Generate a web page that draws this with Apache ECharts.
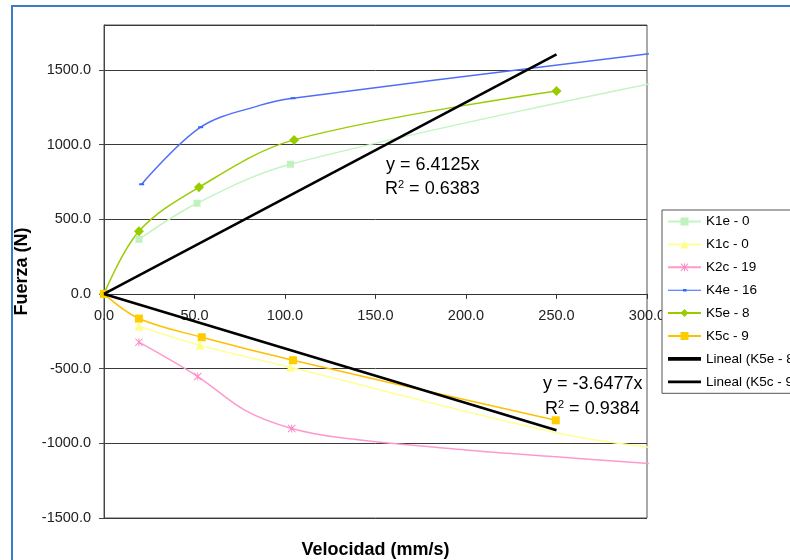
<!DOCTYPE html>
<html>
<head>
<meta charset="utf-8">
<script src="https://cdn.jsdelivr.net/npm/echarts@6/dist/echarts.min.js"></script>
<style>html,body{margin:0;padding:0;background:#fff;}#c{width:790px;height:560px;}</style>
</head>
<body>
<div id="c"></div>
<script>
// ---- data ----
const xTicks = [0, 50, 100, 150, 200, 250, 300];
const yTicks = [-1500, -1000, -500, 0, 500, 1000, 1500];
const seriesNames = ['K1e - 0', 'K1c - 0', 'K2c - 19', 'K4e - 16', 'K5e - 8', 'K5c - 9', 'Lineal (K5e - 8)', 'Lineal (K5c - 9)'];
// [x, y, showMarker]
const k1e = [[19.3, 365, 1], [51.4, 607, 1], [103, 868, 1], [303, 1410, 0]];
const k1c = [[19.3, -216, 1], [53, -343, 1], [103, -491, 1], [250, -930, 0], [303, -1030, 0]];
const k2c = [[19.3, -323, 1], [51.8, -553, 1], [78, -780, 0], [103.7, -901, 1], [132, -965, 0], [200, -1045, 0], [248, -1089, 0], [303, -1136, 0]];
const k4e = [[20.8, 734, 1], [53.4, 1116, 1], [86, 1262, 0], [104.4, 1310, 1], [303, 1610, 0]];
const k5e = [[0, 0, 1], [19.3, 419, 1], [52.5, 714, 1], [105, 1031, 1], [250, 1359, 1]];
const k5c = [[0, 0, 1], [19.3, -165, 1], [54, -290, 1], [104.4, -444, 1], [249.6, -846, 1]];
const trendK5e = [[0, 0], [250, 1603]];   // y = 6.4125x
const trendK5c = [[0, 0], [250, -912]];   // y = -3.6477x
const trendLabels = [['y = 6.4125x', '0.6383'], ['y = -3.6477x', '0.9384']];

const FONT = '"Liberation Sans", Arial, sans-serif';
const asterisk = 'path://M4.4 0L5.6 0L5.6 10L4.4 10Z M0 0.85L0.85 0L10 9.15L9.15 10Z M9.15 0L10 0.85L0.85 10L0 9.15Z';

function pts(arr) {
  return arr.map(p => p[2] ? {value: [p[0], p[1]]} : {value: [p[0], p[1]], symbol: 'none'});
}

function lineSeries(name, arr, color, symbol, size, markerColor, z) {
  return {
    name: name, type: 'line', data: pts(arr), smooth: 0.35, clip: false,
    symbol: symbol, symbolSize: size, showSymbol: true,
    lineStyle: {color: color, width: 1.5},
    itemStyle: {color: markerColor || color, borderWidth: 0},
    emphasis: {disabled: true}, z: z || 2, animation: false
  };
}

const legendData = seriesNames.map((n, i) => {
  if (i === 6) return {name: n, icon: 'path://M0 0L33 0L33 3.6L0 3.6Z'};
  if (i === 7) return {name: n, icon: 'path://M0 0L33 0L33 2.8L0 2.8Z'};
  if (i === 3) return {name: n, icon: 'path://M0 1L33 1L33 2L0 2Z M15 0.3L18.5 0.3L18.5 2.7L15 2.7Z'};
  return {name: n};
});

const chart = echarts.init(document.getElementById('c'), null, {renderer: 'canvas'});
const option = {
  animation: false,
  backgroundColor: '#fff',
  textStyle: {fontFamily: FONT},
  grid: {left: 104, top: 25, right: 143, bottom: 42, outerBoundsMode: 'none', containLabel: false,
    show: true, borderColor: '#555', borderWidth: 1, backgroundColor: 'transparent'},
  xAxis: {
    type: 'value', min: xTicks[0], max: xTicks[xTicks.length - 1], interval: 50,
    position: 'bottom', offset: 0,
    name: 'Velocidad (mm/s)', nameLocation: 'middle', nameGap: 247,
    nameTextStyle: {fontFamily: FONT, fontWeight: 'bold', fontSize: 18, color: '#000'},
    axisLine: {onZero: false, lineStyle: {color: '#333', width: 1}},
    axisTick: {show: true, length: 5, lineStyle: {color: '#333'}},
    axisLabel: {fontFamily: FONT, fontSize: 14.5, color: '#222', margin: 15, formatter: v => v.toFixed(1)},
    splitLine: {show: false}
  },
  yAxis: {
    type: 'value', min: yTicks[0], max: 1800, interval: 500,
    name: 'Fuerza (N)', nameLocation: 'middle', nameGap: 65, nameRotate: 90,
    nameTextStyle: {fontFamily: FONT, fontWeight: 'bold', fontSize: 18, color: '#000'},
    axisLine: {show: true, lineStyle: {color: '#444'}},
    axisTick: {show: true, length: 5, lineStyle: {color: '#444'}},
    axisLabel: {fontFamily: FONT, fontSize: 14.5, color: '#222', margin: 13, showMaxLabel: false,
      formatter: v => (yTicks.indexOf(v) >= 0 ? v.toFixed(1) : '')},
    splitLine: {show: true, lineStyle: {color: '#3a3a3a', width: 1}}
  },
  legend: {
    orient: 'vertical', left: 662, top: 210, data: legendData,
    itemWidth: 33, itemHeight: 10, itemGap: 8.9,
    padding: [4.5, 40, 4.5, 5], borderColor: '#555', borderWidth: 1, backgroundColor: '#fff',
    textStyle: {fontFamily: FONT, fontSize: 13.5, color: '#000'},
    selectedMode: false
  },
  series: [
    lineSeries(seriesNames[0], k1e, '#c2f5c2', 'rect', 7, '#c0f2c0'),
    lineSeries(seriesNames[1], k1c, '#ffff99', 'triangle', 9, '#ffff88'),
    lineSeries(seriesNames[2], k2c, '#ff99cc', asterisk, 8, '#ff88c4'),
    lineSeries(seriesNames[3], k4e, '#4f6ef7', 'rect', [5, 2], '#3366ff'),
    lineSeries(seriesNames[4], k5e, '#99cc00', 'diamond', 10, '#99cc00'),
    lineSeries(seriesNames[5], k5c, '#ffc000', 'rect', 8, '#ffcc00'),
    {name: seriesNames[6], type: 'line', data: trendK5e, symbol: 'none', color: '#000', itemStyle: {color: '#000'}, lineStyle: {color: '#000', width: 2.6}, z: 5, emphasis: {disabled: true}},
    {name: seriesNames[7], type: 'line', data: trendK5c, symbol: 'none', color: '#000', itemStyle: {color: '#000'}, lineStyle: {color: '#000', width: 2.6}, z: 5, emphasis: {disabled: true}}
  ],
  graphic: [
    {type: 'rect', shape: {x: 12, y: 6, width: 820, height: 600}, style: {fill: 'none', stroke: '#3b7dc4', lineWidth: 2}, silent: true, z: 100},
    {type: 'text', left: 386, top: 156, style: {text: trendLabels[0][0], font: '18px ' + FONT, fill: '#000'}, z: 50},
    {type: 'text', left: 385, top: 179, style: {text: 'R{s|2} = ' + trendLabels[0][1], fontFamily: FONT, fontSize: 18, fill: '#000',
      rich: {s: {fontSize: 11, verticalAlign: 'top', lineHeight: 20, fontFamily: FONT}}}, z: 50},
    {type: 'text', left: 543, top: 375, style: {text: trendLabels[1][0], font: '18px ' + FONT, fill: '#000'}, z: 50},
    {type: 'text', left: 545, top: 399, style: {text: 'R{s|2} = ' + trendLabels[1][1], fontFamily: FONT, fontSize: 18, fill: '#000',
      rich: {s: {fontSize: 11, verticalAlign: 'top', lineHeight: 20, fontFamily: FONT}}}, z: 50}
  ]
};
chart.setOption(option);
// move the x axis (line, ticks, labels) up onto y = 0, like the reference
const zeroY = chart.convertToPixel({yAxisIndex: 0}, 0);
const bottomY = chart.convertToPixel({yAxisIndex: 0}, yTicks[0]);
const shift = zeroY - bottomY;
chart.setOption({xAxis: {offset: shift}});
</script>
</body>
</html>
